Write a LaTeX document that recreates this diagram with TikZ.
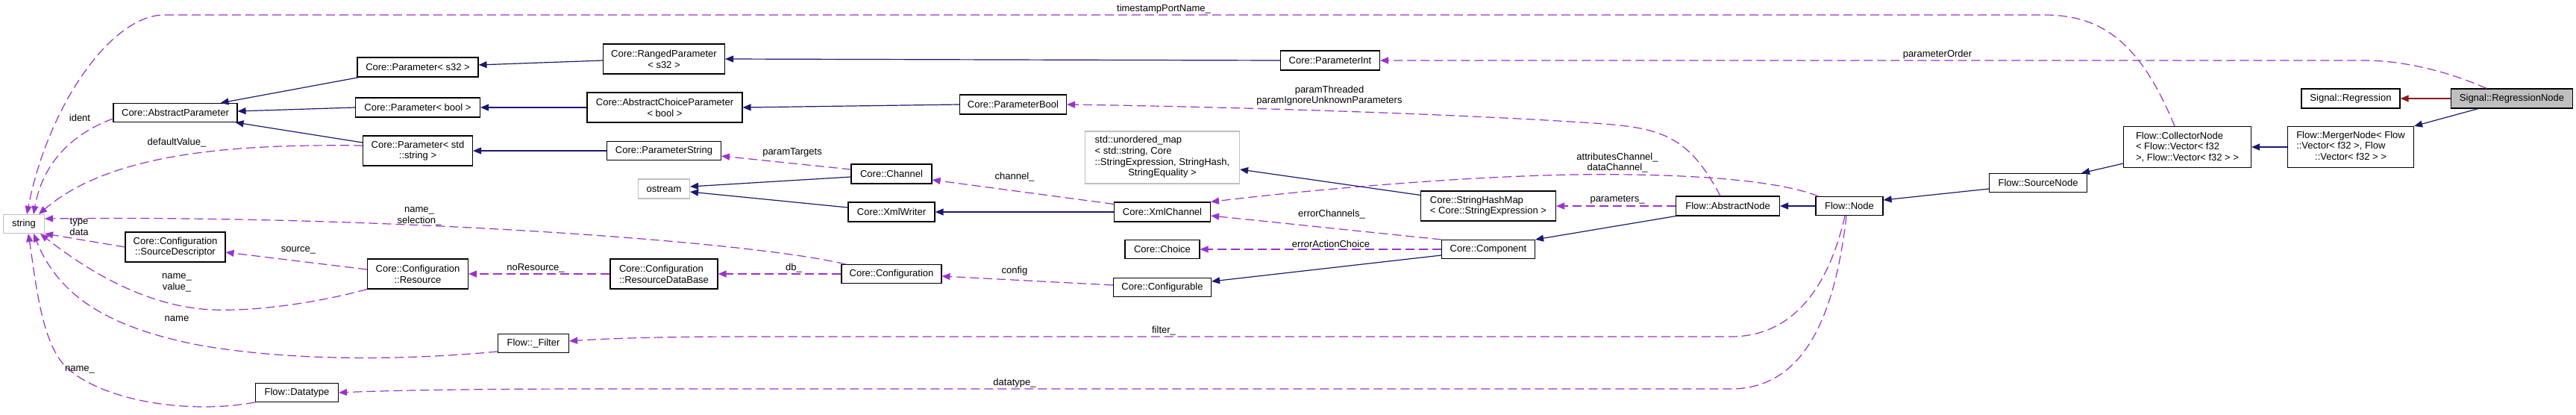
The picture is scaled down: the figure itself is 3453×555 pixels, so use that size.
\documentclass[tikz,border=0pt]{standalone}
\usepackage{fontspec}
\setmainfont{Liberation Sans}
\usetikzlibrary{arrows.meta}
\definecolor{inhblue}{HTML}{191970}
\definecolor{usepurple}{HTML}{9A32CD}
\definecolor{privred}{HTML}{8B1A1A}
\definecolor{graybd}{HTML}{BFBFBF}
\begin{document}
\begin{tikzpicture}[x=1pt,y=-1pt,
  every node/.style={font=\fontsize{13}{14.7}\selectfont},
  cls/.style={draw=black, line width=1.1pt, fill=white, inner sep=0pt, align=center},
  extcls/.style={cls, draw=graybd},
  inh/.style={draw=inhblue, line width=1.2pt, -{Triangle[length=11pt,width=9pt]}},
  prv/.style={draw=privred, line width=1.2pt, -{Triangle[length=11pt,width=9pt]}},
  usage/.style={draw=usepurple, line width=1.2pt, dash pattern=on 12pt off 6pt, -{Triangle[length=11pt,width=9pt]}},
  lbl/.style={inner sep=0pt, align=center}
]
\useasboundingbox[fill=white] (0,0) rectangle (3453,555);

% nodes
\node[extcls, minimum width=55pt, minimum height=25pt] (string) at (32,300) {string};
\node[cls, minimum width=166pt, minimum height=25pt] (absparam) at (235,151) {Core::AbstractParameter};
\node[cls, minimum width=162pt, minimum height=26pt] (ps32) at (560,90) {Core::Parameter< s32 >};
\node[cls, minimum width=167pt, minimum height=26pt] (pbool) at (560,144) {Core::Parameter< bool >};
\node[cls, minimum width=147pt, minimum height=40pt] (pstr) at (560,202) {Core::Parameter< std\\::string >};
\node[cls, minimum width=134pt, minimum height=40pt] (srcdesc) at (235,331) {Core::Configuration\\::SourceDescriptor};
\node[cls, minimum width=135pt, minimum height=40pt] (resource) at (560,367) {Core::Configuration\\::Resource};
\node[cls, minimum width=111pt, minimum height=25pt] (datatype) at (398,526) {Flow::Datatype};
\node[cls, minimum width=95pt, minimum height=25pt] (filter) at (715,460) {Flow::\_Filter};
\node[cls, minimum width=163pt, minimum height=40pt] (ranged) at (890,79) {Core::RangedParameter\\< s32 >};
\node[cls, minimum width=208pt, minimum height=40pt] (abschoice) at (891,144) {Core::AbstractChoiceParameter\\< bool >};
\node[cls, minimum width=153pt, minimum height=25pt] (pstring) at (890,202) {Core::ParameterString};
\node[extcls, minimum width=69pt, minimum height=26pt] (ostream) at (890,253) {ostream};
\node[cls, minimum width=144pt, minimum height=40pt, align=left] (resdb) at (890,367) {Core::Configuration\\::ResourceDataBase};
\node[cls, minimum width=108pt, minimum height=26pt] (channel) at (1195,233) {Core::Channel};
\node[cls, minimum width=116pt, minimum height=26pt] (xmlwriter) at (1195,284) {Core::XmlWriter};
\node[cls, minimum width=134pt, minimum height=25pt] (configuration) at (1195,367) {Core::Configuration};
\node[cls, minimum width=143pt, minimum height=26pt] (parambool) at (1358,140) {Core::ParameterBool};
\node[cls, minimum width=129pt, minimum height=26pt] (xmlchannel) at (1558,284) {Core::XmlChannel};
\node[extcls, minimum width=207pt, minimum height=70pt] (umap) at (1558,211) {\begin{tabular}{@{}l@{}}std::unordered\_map\\< std::string, Core\\::StringExpression, StringHash,\\\multicolumn{1}{@{}c@{}}{StringEquality >}\end{tabular}};
\node[cls, minimum width=100pt, minimum height=25pt] (choice) at (1558,334) {Core::Choice};
\node[cls, minimum width=131pt, minimum height=25pt] (configurable) at (1558,385) {Core::Configurable};
\node[cls, minimum width=133pt, minimum height=26pt] (paramint) at (1783,81) {Core::ParameterInt};
\node[cls, minimum width=181pt, minimum height=40pt, align=left] (strhashmap) at (1995,276) {Core::StringHashMap\\< Core::StringExpression >};
\node[cls, minimum width=139pt, minimum height=26pt] (abstractnode) at (2316,276) {Flow::AbstractNode};
\node[cls, minimum width=90pt, minimum height=25pt] (flownode) at (2479,276) {Flow::Node};
\node[cls, minimum width=125pt, minimum height=25pt] (component) at (1995,334) {Core::Component};
\node[cls, minimum width=131pt, minimum height=25pt] (sourcenode) at (2732,245) {Flow::SourceNode};
\node[cls, minimum width=171pt, minimum height=55pt, align=left] (collector) at (2932,197) {Flow::CollectorNode\\< Flow::Vector< f32\\ >, Flow::Vector< f32 > >};
\node[cls, minimum width=169pt, minimum height=55pt] (merger) at (3151,197) {\begin{tabular}{@{}l@{}}Flow::MergerNode< Flow\\::Vector< f32 >, Flow\\\multicolumn{1}{@{}c@{}}{::Vector< f32 > >}\end{tabular}};
\node[cls, minimum width=132pt, minimum height=26pt] (regression) at (3151,132) {Signal::Regression};
\node[cls, fill=graybd, minimum width=163pt, minimum height=26pt] (regnode) at (3367,132) {Signal::RegressionNode};

% inheritance
\draw[inh] ([xshift=3pt]ps32.south west) -- ([xshift=-23pt]absparam.north east);
\draw[inh] (pbool.west) -- ([yshift=2pt]absparam.east);
\draw[inh] ([yshift=11pt]pstr.west) -- ([xshift=-3pt]absparam.south east);
\draw[inh] ([yshift=-2pt]ranged.west) -- ([yshift=3pt]ps32.east);
\draw[inh] (abschoice.west) -- (pbool.east);
\draw[inh] (pstring.west) -- (pstr.east);
\draw[inh] (paramint.west) -- (ranged.east);
\draw[inh] (parambool.west) -- (abschoice.east);
\draw[inh] ([yshift=-4pt]channel.west) -- ([yshift=3pt]ostream.east);
\draw[inh] ([yshift=6pt]xmlwriter.west) -- ([yshift=-4pt]ostream.east);
\draw[inh] (xmlchannel.west) -- (xmlwriter.east);
\draw[inh] ([yshift=-6pt]strhashmap.north west) -- ([yshift=-16pt]umap.east);
\draw[inh] ([yshift=-8pt]component.west) -- ([yshift=8pt]configurable.east);
\draw[inh] (abstractnode.south west) -- (component.north east);
\draw[inh] (flownode.west) -- (abstractnode.east);
\draw[inh] ([yshift=-8pt]sourcenode.west) -- ([yshift=8pt]flownode.east);
\draw[inh] ([yshift=6pt]collector.south west) -- ([xshift=-8pt]sourcenode.north east);
\draw[inh] (merger.west) -- (collector.east);
\draw[inh] ([xshift=-45pt]regnode.south) -- (merger.north east);
\draw[prv] (regnode.west) -- (regression.east);

% usage
\draw[usage] ([xshift=-17pt]collector.north) .. controls (2870,60) and (2820,20) .. (2740,20) -- (220,20) .. controls (150,20) and (65,140) .. ([xshift=4pt]string.north);
\draw[usage] ([xshift=-34pt]regnode.north) .. controls (3280,95) and (3220,81) .. (3169,81) -- (paramint.east);
\draw[usage] ([xshift=-10pt]abstractnode.north) .. controls (2265,185) and (2230,172) .. (2150,166) .. controls (2000,155) and (1700,144) .. (parambool.east);
\draw[usage] ([xshift=4pt]flownode.north west) .. controls (2380,240) and (2250,232) .. (2107,234) .. controls (1950,237) and (1750,255) .. (xmlchannel.north east);
\draw[usage] ([yshift=-3pt]xmlchannel.north west) -- ([yshift=-8pt]channel.east);
\draw[usage] ([yshift=6pt]channel.west) -- ([yshift=-7pt]pstring.east);
\draw[usage] (component.north west) -- ([yshift=-5pt]xmlchannel.east);
\draw[usage] (component.west) -- (choice.east);
\draw[usage] (abstractnode.west) -- (strhashmap.east);
\draw[usage] ([yshift=3pt]configurable.west) -- ([yshift=-3pt]configuration.east);
\draw[usage] (configuration.west) -- (resdb.east);
\draw[usage] (resdb.west) -- (resource.east);
\draw[usage] ([yshift=6pt]resource.west) -- ([yshift=-7pt]srcdesc.east);
\draw[usage] (resource.south west) .. controls (420,407) and (340,417) .. (286,415) .. controls (200,412) and (120,365) .. ([xshift=22pt]string.south);
\draw[usage] (srcdesc.west) -- (string.south east);
\draw[usage] ([yshift=-8pt]absparam.west) .. controls (100,178) and (58,215) .. ([xshift=13pt]string.north);
\draw[usage] ([yshift=7pt]pstr.west) .. controls (320,193) and (150,203) .. ([xshift=20pt]string.north);
\draw[usage] ([xshift=6pt]configuration.north west) .. controls (1000,322) and (500,288) .. ([yshift=7pt]string.east);
\draw[usage] ([yshift=-11pt]filter.west) .. controls (550,482) and (400,485) .. (270,463) .. controls (150,440) and (80,400) .. ([xshift=13pt]string.south);
\draw[usage] ([xshift=-6pt]flownode.south) .. controls (2450,390) and (2400,451) .. (2320,451) -- (1000,451) .. controls (900,451) and (820,453) .. ([yshift=3pt]filter.east);
\draw[usage] ([xshift=-4pt]flownode.south) .. controls (2460,420) and (2420,521) .. (2320,521) -- (800,521) .. controls (600,521) and (500,524) .. (datatype.east);
\draw[usage] (datatype.south west) .. controls (250,556) and (130,536) .. (85,488) .. controls (55,453) and (48,378) .. ([xshift=6pt]string.south);

% labels
\node[lbl] (lTs) at (1560,12) {timestampPortName\_};
\node[lbl] (lPo) at (2597,73) {parameterOrder};
\node[lbl] (lPt) at (1782,128) {paramThreaded\\paramIgnoreUnknownParameters};
\node[lbl] (lAc) at (2168,218) {attributesChannel\_\\dataChannel\_};
\node[lbl] (lCh) at (1360,237) {channel\_};
\node[lbl] (lPtg) at (1062,204) {paramTargets};
\node[lbl] (lEc) at (1785,287) {errorChannels\_};
\node[lbl] (lEa) at (1784,327) {errorActionChoice};
\node[lbl] (lPa) at (2168,268) {parameters\_};
\node[lbl] (lCf) at (1360,363) {config};
\node[lbl] (lDb) at (1064,359) {db\_};
\node[lbl] (lNr) at (718,359) {noResource\_};
\node[lbl] (lSrc) at (400,335) {source\_};
\node[lbl] (lNv) at (237,379) {name\_\\value\_};
\node[lbl] (lTd) at (106,304) {type\\data};
\node[lbl] (lId) at (107,158) {ident};
\node[lbl] (lDv) at (237,191) {defaultValue\_};
\node[lbl] (lNs) at (562,290) {name\_\\selection\_};
\node[lbl] (lNf) at (237,427) {name};
\node[lbl] (lFi) at (1560,443) {filter\_};
\node[lbl] (lDt) at (1360,513) {datatype\_};
\node[lbl] (lNd) at (107,495) {name\_};
\end{tikzpicture}
\end{document}
